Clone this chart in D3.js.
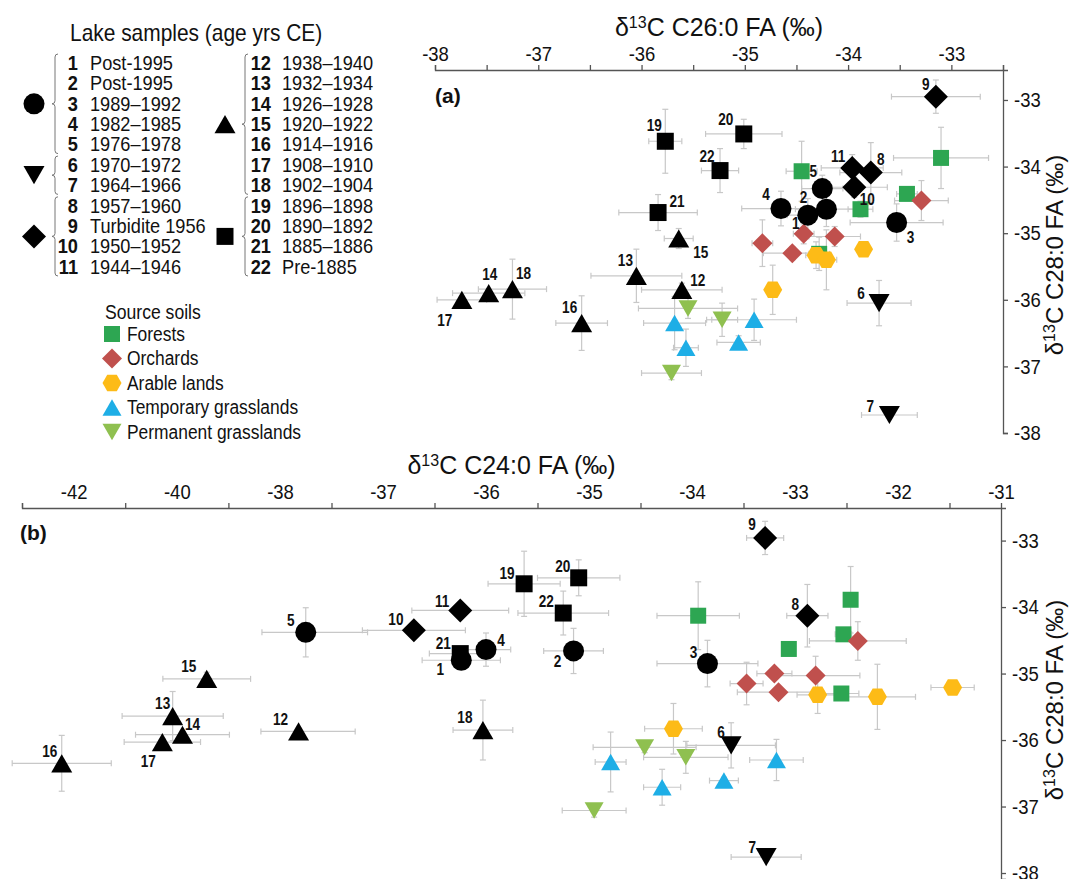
<!DOCTYPE html>
<html>
<head>
<meta charset="utf-8">
<title>d13C FA lake samples vs source soils</title>
<script src="https://d3js.org/d3.v7.min.js"></script>
<style>
  body { margin: 0; background: #fff; }
  svg text { font-family: "Liberation Sans Narrow", "Arial Narrow", "Liberation Sans", Arial, sans-serif; fill: #111; }
</style>
</head>
<body>
<svg id="chart" width="1070" height="879"></svg>
<script>
// ---------- data ----------
var lakeIds = d3.range(1, 23);
var lakeAges = ["Post-1995", "Post-1995", "1989\u20131992", "1982\u20131985", "1976\u20131978",
    "1970\u20131972", "1964\u20131966", "1957\u20131960", "Turbidite 1956", "1950\u20131952",
    "1944\u20131946", "1938\u20131940", "1932\u20131934", "1926\u20131928", "1920\u20131922",
    "1914\u20131916", "1908\u20131910", "1902\u20131904", "1896\u20131898", "1890\u20131892",
    "1885\u20131886", "Pre-1885"];
var lakeShapes = ["circle", "circle", "circle", "circle", "circle", "down", "down",
    "diamond", "diamond", "diamond", "diamond", "up", "up", "up", "up", "up", "up", "up",
    "square", "square", "square", "square"];

// panel (a): x = d13C C26:0, y = d13C C28:0
var aLakeX = [-34.39, -34.21, -33.53, -34.65, -34.25, -33.70, -33.60, -33.78, -33.15, -33.94, -33.96,
    -35.61, -36.05, -37.48, -35.64, -36.58, -37.74, -37.25, -35.77, -35.01, -35.84, -35.24];
var aLakeY = [-34.73, -34.64, -34.84, -34.63, -34.33, -36.05, -37.73, -34.09, -32.95, -34.31, -34.02,
    -35.85, -35.64, -35.90, -35.08, -36.35, -36.00, -35.84, -33.62, -33.51, -34.69, -34.06];
var aLakeXErr = [0.20, 0.30, 0.45, 0.38, 0.20, 0.31, 0.27, 0.30, 0.43, 0.32, 0.30,
    0.39, 0.44, 0.35, 0.14, 0.25, 0.24, 0.33, 0.16, 0.37, 0.38, 0.18];
var aLakeYErr = [0.25, 0.26, 0.28, 0.26, 0.20, 0.34, 0.05, 0.45, 0.25, 0.15, 0.20,
    0.10, 0.40, 0.05, 0.15, 0.41, 0.05, 0.45, 0.48, 0.22, 0.27, 0.33];

// panel (b): x = d13C C24:0, y = d13C C28:0
var bLakeX = [-36.24, -35.15, -33.85, -36.00, -37.75, -33.62, -33.28, -32.88, -33.29, -36.70, -36.25,
    -37.82, -40.08, -39.89, -39.42, -42.23, -40.28, -36.03, -35.63, -35.10, -36.25, -35.25];
var bLakeY = [-34.80, -34.66, -34.85, -34.64, -34.38, -36.08, -37.76, -34.13, -32.96, -34.35, -34.05,
    -35.87, -35.64, -35.92, -35.08, -36.35, -36.03, -35.85, -33.65, -33.56, -34.70, -34.09];
var bLakeXErr = [0.38, 0.29, 0.49, 0.24, 0.60, 0.43, 0.34, 0.20, 0.18, 0.50, 0.47,
    0.55, 0.98, 0.91, 0.85, 0.96, 0.74, 0.29, 0.35, 0.40, 0.30, 0.44];
var bLakeYErr = [0.10, 0.34, 0.35, 0.25, 0.37, 0.34, 0.05, 0.47, 0.25, 0.10, 0.10,
    0.05, 0.37, 0.05, 0.10, 0.42, 0.05, 0.45, 0.49, 0.27, 0.10, 0.33];

var soilTypes = ["Forests", "Orchards", "Arable lands", "Temporary grasslands", "Permanent grasslands"];

var aSoilType = [0, 0, 0, 0, 0, 1, 1, 1, 1, 1, 2, 2, 2, 2, 3, 3, 3, 3, 4, 4, 4];
var aSoilX = [-34.45, -33.10, -33.43, -33.88, -34.28, -33.29, -34.43, -34.13, -34.83, -34.54,
    -33.85, -34.31, -34.21, -34.73, -35.68, -35.57, -35.06, -34.91, -35.55, -35.22, -35.71];
var aSoilY = [-34.07, -33.87, -34.41, -34.64, -35.31, -34.51, -35.01, -35.05, -35.15, -35.30,
    -35.24, -35.33, -35.40, -35.85, -36.35, -36.72, -36.64, -36.30, -36.13, -36.30, -37.10];
var aSoilXErr = [0.15, 0.46, 0.10, 0.12, 0.10, 0.26, 0.10, 0.25, 0.10, 0.28,
    0.05, 0.10, 0.10, 0.05, 0.30, 0.12, 0.21, 0.41, 0.48, 0.15, 0.29];
var aSoilYErr = [0.45, 0.46, 0.10, 0.12, 0.25, 0.30, 0.15, 0.15, 0.35, 0.10,
    0.05, 0.20, 0.45, 0.37, 0.40, 0.28, 0.10, 0.31, 0.15, 0.25, 0.10];

var bSoilType = [0, 0, 0, 0, 0, 1, 1, 1, 1, 1, 2, 2, 2, 2, 3, 3, 3, 3, 4, 4, 4];
var bSoilX = [-33.94, -32.46, -32.53, -33.06, -32.55, -32.39, -33.47, -33.20, -33.16, -32.80,
    -32.78, -32.20, -31.47, -34.18, -34.79, -34.29, -33.69, -33.18, -34.46, -34.06, -34.95];
var bSoilY = [-34.13, -33.89, -34.41, -34.63, -35.30, -34.51, -35.15, -35.00, -35.28, -35.03,
    -35.32, -35.35, -35.21, -35.83, -36.33, -36.71, -36.61, -36.30, -36.11, -36.26, -37.06];
var bSoilXErr = [0.40, 0.03, 0.08, 0.05, 0.17, 0.47, 0.16, 0.17, 0.40, 0.43,
    0.20, 0.37, 0.21, 0.28, 0.15, 0.18, 0.14, 0.26, 0.50, 0.41, 0.31];
var bSoilYErr = [0.51, 0.50, 0.08, 0.05, 0.05, 0.29, 0.32, 0.05, 0.05, 0.29,
    0.28, 0.49, 0.05, 0.38, 0.45, 0.27, 0.05, 0.31, 0.08, 0.24, 0.10];

// axis ticks
var aXTicks = d3.range(-38, -32.49, 0.5);
var aYTicks = [-33, -34, -35, -36, -37, -38];
var bXLabels = [-42, -40, -38, -37, -36, -35, -34, -33, -32, -31];
var bXTicks = [-43, -41, -39, -37.5, -36.5, -35.5, -34.5, -33.5, -32.5, -31.5];
var bYTicks = [-33, -34, -35, -36, -37, -38];

// ---------- styling ----------
var soilColors = ["#2da652", "#c0504d", "#fdbb17", "#1eaee6", "#8fc050"];
var soilShapes = ["square", "diamond", "hexagon", "up", "down"];
// label offsets (px) of the sample numbers
var aLabelDx = [-12, -23, 14, -15, -9, -18, -19, 10, -10, 13, -14, 16, -11, 1, 22, -12, -17, 11, -11, -18, 19, -13];
var aLabelDy = [8, -12, 15, -14, -17, -10, -8, -13, -12, 12, -11, -9, -15, -19, 14, -15, 21, -16, -16, -14, -11, -14];
var bLabelDx = [-21, -16, -14, 15, -15, -10, -14, -12, -13, -18, -18, -18, -10, 10, -18, -12, -14, -18, -17, -16, -17, -17];
var bLabelDy = [9, 11, -11, -9, -12, -13, -9, -11, -13, -11, -9, -12, -12, -10, -12, -12, 20, -12, -10, -11, -10, -11];

var errColor = "#c8c8c8";
var axisColor = "#555";
var narrowK = 0.88;   // horizontal squeeze to imitate a narrow face

var svg = d3.select("#chart");

function shapePath(shape, s) {
    if (shape === "circle") return d3.symbol(d3.symbolCircle, Math.PI * s * s / 4)();
    if (shape === "square") return d3.symbol(d3.symbolSquare, s * s)();
    if (shape === "diamond") return d3.symbol(d3.symbolSquare, s * s / 2)();
    if (shape === "hexagon") {
        var r = s / 2;
        return d3.line()(d3.range(6).map(function(i) {
            var a = i * Math.PI / 3;
            return [r * Math.cos(a), r * Math.sin(a)];
        })) + "Z";
    }
    var h = s * Math.sqrt(3) / 2;
    if (shape === "up") return "M0," + (-h / 2) + "L" + (s / 2) + "," + (h / 2) + "L" + (-s / 2) + "," + (h / 2) + "Z";
    return "M0," + (h / 2) + "L" + (s / 2) + "," + (-h / 2) + "L" + (-s / 2) + "," + (-h / 2) + "Z";
}
function shapeRotate(shape) { return shape === "diamond" ? " rotate(45)" : ""; }

// place a text at (x,y) squeezed horizontally
function putText(parent, x, y, k) {
    return parent.append("text").attr("transform", "translate(" + x + "," + y + ") scale(" + k + ",1)");
}

var lakeSize = { circle: 21, square: 17, diamond: 24, up: 21, down: 21 };
var soilSize = { square: 16, diamond: 20, hexagon: 19, up: 19, down: 19 };

function errorBars(g, pts, x, y) {
    var cap = 3;
    var eb = g.append("g").attr("stroke", errColor).attr("stroke-width", 1.2).attr("fill", "none");
    pts.forEach(function(p) {
        var cx = x(p.x), cy = y(p.y);
        var x1 = x(p.x - p.xe), x2 = x(p.x + p.xe);
        var y1 = y(p.y + p.ye), y2 = y(p.y - p.ye);
        eb.append("line").attr("x1", x1).attr("x2", x2).attr("y1", cy).attr("y2", cy);
        eb.append("line").attr("x1", x1).attr("x2", x1).attr("y1", cy - cap).attr("y2", cy + cap);
        eb.append("line").attr("x1", x2).attr("x2", x2).attr("y1", cy - cap).attr("y2", cy + cap);
        eb.append("line").attr("x1", cx).attr("x2", cx).attr("y1", y1).attr("y2", y2);
        eb.append("line").attr("x1", cx - cap).attr("x2", cx + cap).attr("y1", y1).attr("y2", y1);
        eb.append("line").attr("x1", cx - cap).attr("x2", cx + cap).attr("y1", y2).attr("y2", y2);
    });
}

function drawPanel(x, y, lx, ly, lxe, lye, st, sx, sy, sxe, sye, ldx, ldy) {
    var g = svg.append("g");
    var lake = lakeIds.map(function(id, i) {
        return { id: id, shape: lakeShapes[i], x: lx[i], y: ly[i], xe: lxe[i], ye: lye[i], dx: ldx[i], dy: ldy[i] };
    });
    var soil = st.map(function(t, i) {
        return { t: t, x: sx[i], y: sy[i], xe: sxe[i], ye: sye[i] };
    });
    errorBars(g, soil.concat(lake), x, y);

    g.selectAll("path.soil").data(soil).enter().append("path")
        .attr("class", "soil")
        .attr("transform", function(d) { return "translate(" + x(d.x) + "," + y(d.y) + ")" + shapeRotate(soilShapes[d.t]); })
        .attr("d", function(d) { return shapePath(soilShapes[d.t], soilSize[soilShapes[d.t]]); })
        .attr("fill", function(d) { return soilColors[d.t]; });

    var rev = lake.slice().reverse();
    g.selectAll("path.lake").data(rev).enter().append("path")
        .attr("class", "lake")
        .attr("transform", function(d) { return "translate(" + x(d.x) + "," + y(d.y) + ")" + shapeRotate(d.shape); })
        .attr("d", function(d) { return shapePath(d.shape, lakeSize[d.shape]); })
        .attr("fill", "#000");

    g.selectAll("text.num").data(lake).enter().append("text")
        .attr("class", "num")
        .attr("transform", function(d) { return "translate(" + (x(d.x) + d.dx) + "," + (y(d.y) + d.dy) + ") scale(0.85,1)"; })
        .attr("text-anchor", "middle")
        .attr("dominant-baseline", "central")
        .style("font-size", "16px").style("font-weight", "bold")
        .text(function(d) { return d.id; });
}

function styleAxis(g) {
    g.selectAll("path, line").attr("stroke", axisColor).attr("stroke-width", 1.3);
    g.selectAll("text").style("font-size", "21px").attr("fill", "#111")
        .style("font-family", "\"Liberation Sans Narrow\", \"Arial Narrow\", \"Liberation Sans\", Arial, sans-serif");
}
function squeezeTicks(g, k) {
    g.selectAll(".tick text").each(function() {
        var t = d3.select(this);
        var tx = +t.attr("x") || 0, ty = +t.attr("y") || 0;
        t.attr("x", null).attr("y", null)
            .attr("transform", "translate(" + tx + "," + ty + ") scale(" + k + ",1)");
    });
}

function isoTitle(sel, chain) {
    sel.append("tspan").text("\u03b4");
    sel.append("tspan").attr("baseline-shift", "super").style("font-size", "16px").text("13");
    sel.append("tspan").text("C " + chain + " FA (\u2030)");
}

// ---------- panel (a) ----------
var xA = d3.scaleLinear().domain([-38, -32.5]).range([435, 1003]);
var yA = d3.scaleLinear().domain([-32.55, -38]).range([70, 433]);

svg.append("g").attr("transform", "translate(0,70)")
    .call(d3.axisTop(xA).tickValues(aXTicks).tickSizeOuter(0).tickSize(5).tickPadding(4)
        .tickFormat(function(d) { return Number.isInteger(d) ? String(d) : ""; }))
    .call(styleAxis).call(squeezeTicks, narrowK);
svg.append("g").attr("transform", "translate(1003,0)")
    .call(d3.axisRight(yA).tickValues(aYTicks).tickSizeOuter(0).tickSize(5).tickPadding(6)
        .tickFormat(function(d) { return String(d); }))
    .call(styleAxis).call(squeezeTicks, narrowK);

svg.append("text").attr("x", (xA.range()[0] + xA.range()[1]) / 2).attr("y", 36)
    .attr("text-anchor", "middle").style("font-size", "25px").call(isoTitle, "C26:0");
svg.append("text").attr("transform", "translate(1063,255) rotate(-90)")
    .attr("text-anchor", "middle")
    .style("font-size", "24px").call(isoTitle, "C28:0");
svg.append("text").attr("x", 435).attr("y", 103).style("font-size", "21px").style("font-weight", "bold").text("(a)");

drawPanel(xA, yA, aLakeX, aLakeY, aLakeXErr, aLakeYErr, aSoilType, aSoilX, aSoilY, aSoilXErr, aSoilYErr, aLabelDx, aLabelDy);

// ---------- panel (b) ----------
var xB = d3.scaleLinear().domain([-43, -38, -31]).range([22, 280, 1001]);
var yB = d3.scaleLinear().domain([-32.51, -38.09]).range([508, 879]);

svg.append("g").attr("transform", "translate(0,508)")
    .call(d3.axisTop(xB).tickValues(bXTicks).tickSizeOuter(0).tickSize(5).tickFormat(""))
    .call(styleAxis);
svg.append("g").attr("transform", "translate(0,508)")
    .call(d3.axisTop(xB).tickValues(bXLabels).tickSize(0).tickPadding(9)
        .tickFormat(function(d) { return String(d); }))
    .call(styleAxis).call(squeezeTicks, narrowK)
    .call(function(g) { g.select(".domain").remove(); });
svg.append("g").attr("transform", "translate(1001,0)")
    .call(d3.axisRight(yB).tickValues(bYTicks).tickSizeOuter(0).tickSize(5).tickPadding(6)
        .tickFormat(function(d) { return String(d); }))
    .call(styleAxis).call(squeezeTicks, narrowK);

svg.append("text").attr("x", (xB(-43) + xB(-31)) / 2).attr("y", 474)
    .attr("text-anchor", "middle").style("font-size", "25px").call(isoTitle, "C24:0");
svg.append("text").attr("transform", "translate(1063,700) rotate(-90)")
    .attr("text-anchor", "middle")
    .style("font-size", "24px").call(isoTitle, "C28:0");
svg.append("text").attr("x", 20).attr("y", 540).style("font-size", "21px").style("font-weight", "bold").text("(b)");

drawPanel(xB, yB, bLakeX, bLakeY, bLakeXErr, bLakeYErr, bSoilType, bSoilX, bSoilY, bSoilXErr, bSoilYErr, bLabelDx, bLabelDy);

// ---------- legend: lake samples ----------
var leg = svg.append("g");
putText(leg, 70, 41, 0.91).style("font-size", "23px").text("Lake samples (age yrs CE)");

var rowY = function(i) { return 63 + (i % 11) * 20.4; };
lakeIds.forEach(function(id, i) {
    var col2 = i >= 11;
    putText(leg, col2 ? 271 : 78, rowY(i), 0.91)
        .attr("text-anchor", "end").attr("dominant-baseline", "central")
        .style("font-size", "20px").style("font-weight", "bold").text(id);
    putText(leg, col2 ? 282 : 90, rowY(i), 0.91)
        .attr("dominant-baseline", "central").style("font-size", "20px").text(lakeAges[i]);
});

// group brackets + symbols, built from the shape list
var groups = [];
lakeShapes.forEach(function(s, i) {
    var last = groups[groups.length - 1];
    if (last && last.shape === s) last.to = i; else groups.push({ shape: s, from: i, to: i });
});
function bracePath(xb, y1, y2) {
    var ym = (y1 + y2) / 2, c = 3;
    return "M" + (xb + c) + "," + y1 + "Q" + xb + "," + y1 + " " + xb + "," + (y1 + c) +
        "L" + xb + "," + (ym - c) + "Q" + xb + "," + ym + " " + (xb - c) + "," + ym +
        "Q" + xb + "," + ym + " " + xb + "," + (ym + c) +
        "L" + xb + "," + (y2 - c) + "Q" + xb + "," + y2 + " " + (xb + c) + "," + y2;
}
groups.forEach(function(gr) {
    var col2 = gr.from >= 11;
    var y1 = rowY(gr.from) - 9, y2 = rowY(gr.to) + 9;
    var xb = col2 ? 245 : 55;
    leg.append("path").attr("d", bracePath(xb, y1, y2)).attr("fill", "none").attr("stroke", "#777").attr("stroke-width", 1);
    leg.append("path")
        .attr("transform", "translate(" + (col2 ? 225 : 34) + "," + ((y1 + y2) / 2) + ")" + shapeRotate(gr.shape))
        .attr("d", shapePath(gr.shape, lakeSize[gr.shape]))
        .attr("fill", "#000");
});

// ---------- legend: source soils ----------
putText(leg, 105, 312, 0.88).attr("dominant-baseline", "central")
    .style("font-size", "20px").text("Source soils");
soilTypes.forEach(function(name, i) {
    var yy = 334 + i * 24.5;
    leg.append("path")
        .attr("transform", "translate(112," + yy + ")" + shapeRotate(soilShapes[i]))
        .attr("d", shapePath(soilShapes[i], soilSize[soilShapes[i]]))
        .attr("fill", soilColors[i]);
    putText(leg, 127, yy, 0.87).attr("dominant-baseline", "central")
        .style("font-size", "20px").text(name);
});
</script>
</body>
</html>
